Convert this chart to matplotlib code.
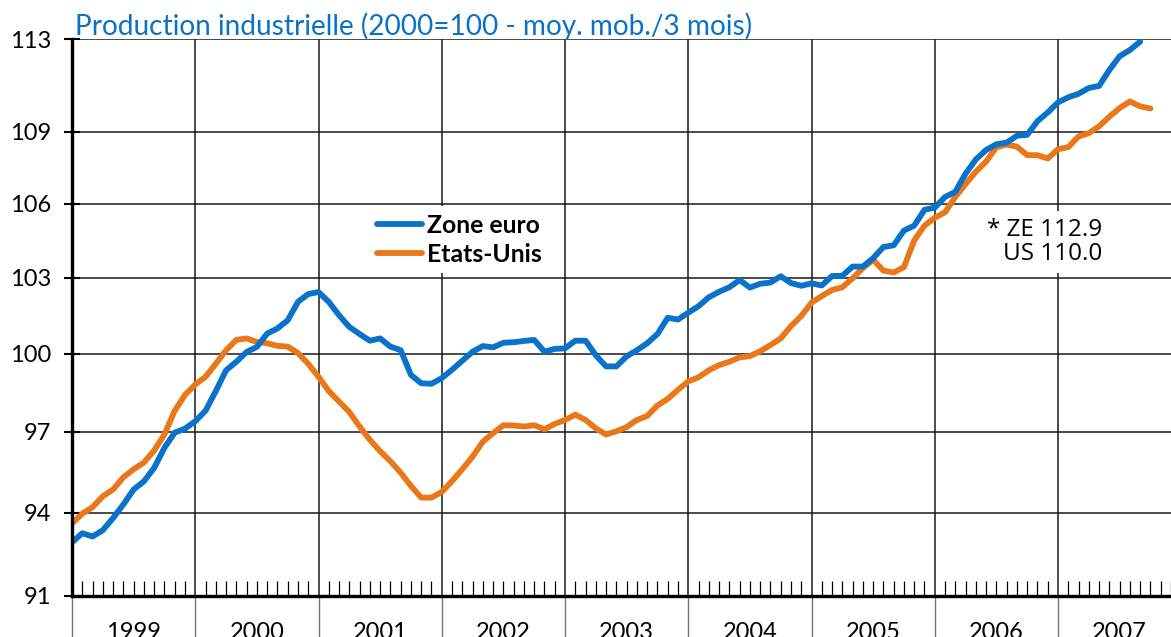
import numpy as np
import matplotlib
matplotlib.use("Agg")
import matplotlib.pyplot as plt
from matplotlib.ticker import FixedLocator, NullLocator, NullFormatter
import matplotlib.transforms as mtransforms

# ---------------- data ----------------
title = "Production industrielle (2000=100 - moy. mob./3 mois)"
years = ["1999", "2000", "2001", "2002", "2003", "2004", "2005", "2006", "2007"]
y_ticks = [91, 94, 97, 100, 103, 106, 109, 113]
series_names = ["Zone euro", "Etats-Unis"]

# monthly values, starting January 1999
zone_euro = [
    92.92, 93.25, 93.13, 93.36, 93.8, 94.3, 94.85, 95.15, 95.65, 96.4, 96.97, 97.12,
    97.4, 97.8, 98.55, 99.35, 99.68, 100.06, 100.26, 100.78, 100.98, 101.3, 102.03, 102.34,
    102.42, 102.03, 101.5, 101.04, 100.76, 100.5, 100.59, 100.27, 100.13, 99.17, 98.85, 98.83,
    99.05, 99.37, 99.72, 100.07, 100.29, 100.24, 100.42, 100.44, 100.49, 100.53, 100.07, 100.18,
    100.2, 100.5, 100.5, 99.93, 99.5, 99.5, 99.89, 100.13, 100.4, 100.76, 101.4, 101.33,
    101.6, 101.86, 102.21, 102.43, 102.61, 102.9, 102.6, 102.75, 102.8, 103.05, 102.78, 102.67,
    102.77, 102.68, 103.06, 103.07, 103.44, 103.44, 103.78, 104.23, 104.3, 104.9, 105.1, 105.75,
    105.84, 106.28, 106.49, 107.25, 107.84, 108.24, 108.48, 108.55, 108.84, 108.88, 109.46, 109.83,
    110.26, 110.48, 110.63, 110.88, 110.97, 111.66, 112.26, 112.53, 112.9,
]
etats_unis = [
    93.6, 93.96, 94.2, 94.6, 94.85, 95.3, 95.6, 95.85, 96.3, 96.9, 97.8, 98.4,
    98.8, 99.1, 99.6, 100.13, 100.53, 100.59, 100.45, 100.4, 100.3, 100.27, 100.02, 99.6,
    99.1, 98.55, 98.15, 97.75, 97.2, 96.7, 96.27, 95.9, 95.47, 94.98, 94.55, 94.55,
    94.76, 95.16, 95.6, 96.07, 96.63, 96.95, 97.25, 97.24, 97.2, 97.25, 97.1, 97.3,
    97.45, 97.65, 97.45, 97.13, 96.9, 97.02, 97.18, 97.45, 97.6, 98.0, 98.25, 98.6,
    98.92, 99.08, 99.35, 99.55, 99.68, 99.85, 99.9, 100.09, 100.33, 100.59, 101.07, 101.47,
    102.0, 102.26, 102.5, 102.61, 102.97, 103.38, 103.71, 103.28, 103.2, 103.42, 104.5, 105.1,
    105.42, 105.65, 106.28, 106.81, 107.33, 107.75, 108.36, 108.46, 108.38, 108.02, 108.02, 107.88,
    108.27, 108.36, 108.81, 108.95, 109.24, 109.65, 110.02, 110.3, 110.09, 110.0,
]
annotation = "* ZE 112.9\nUS 110.0"

# ---------------- style ----------------
BLUE = "#0A72C8"
ORANGE = "#E8781A"
W, H = 1171, 637
DPI = 100

fig = plt.figure(figsize=(W / DPI, H / DPI), dpi=DPI)
left_px, right_px, top_px, bottom_px = 72, 1171, 39.3, 596
ax = fig.add_axes([left_px / W, (H - bottom_px) / H,
                   (right_px - left_px) / W, (bottom_px - top_px) / H])

x_ze = np.arange(len(zone_euro))
x_us = np.arange(len(etats_unis))
n_months = 12 * len(years) - 1  # axis ends at start of last month

ax.plot(x_ze, zone_euro, color=BLUE, lw=4.2, solid_capstyle="round",
        solid_joinstyle="round", label=series_names[0], zorder=5)
ax.plot(x_us, etats_unis, color=ORANGE, lw=4.2, solid_capstyle="round",
        solid_joinstyle="round", label=series_names[1], zorder=4)

ax.set_yscale("log")
ax.set_ylim(y_ticks[0], y_ticks[-1])
ax.set_xlim(0, n_months)

ax.yaxis.set_major_locator(FixedLocator(y_ticks))
ax.yaxis.set_minor_locator(NullLocator())
ax.yaxis.set_minor_formatter(NullFormatter())
ax.set_yticklabels([str(v) for v in y_ticks])

year_starts = [12 * i for i in range(len(years))]
ax.xaxis.set_major_locator(FixedLocator(year_starts))
ax.xaxis.set_minor_locator(FixedLocator(list(range(0, n_months + 1))))
ax.set_xticklabels([""] * len(year_starts))

ax.grid(True, which="major", color="#1a1a1a", lw=1.1, zorder=1)
ax.set_axisbelow(True)

for s in ["top", "right"]:
    ax.spines[s].set_visible(False)
for s in ["left", "bottom"]:
    ax.spines[s].set_linewidth(2.4)
    ax.spines[s].set_color("black")
    ax.spines[s].set_zorder(6)

ax.tick_params(axis="y", which="major", direction="inout", length=11.5, width=1.5,
               pad=9, labelsize=17, colors="black")
ax.tick_params(axis="x", which="major", direction="out", length=32, width=1.0,
               color="#777777", labelsize=1)
ax.tick_params(axis="x", which="minor", direction="in", length=10.8, width=0.9,
               color="black")

for lab in ax.get_yticklabels():
    lab.set_fontfamily(["Lato", "DejaVu Sans"])

# year labels, centred in each year, partly below the figure edge (as in the reference)
trans = mtransforms.blended_transform_factory(ax.transData, fig.transFigure)
for i, yr in enumerate(years):
    ax.text(12 * i + 6, -2.0 / H, yr, transform=trans, ha="center", va="baseline",
            fontsize=17, family=["Lato", "DejaVu Sans"], clip_on=False)

# title
fig.text(75 / W, (H - 35) / H, title, color=BLUE, fontsize=20.2,
         family=["Lato", "DejaVu Sans"], ha="left", va="baseline")

# legend
leg = ax.legend(loc="upper left", bbox_to_anchor=(0.271, 0.700), frameon=True,
                fancybox=False, framealpha=1, edgecolor="none", facecolor="white",
                borderaxespad=0, borderpad=0.3, handlelength=1.8, handletextpad=0.22,
                labelspacing=0.25, prop={"family": "Lato", "size": 17.8, "weight": "bold"})
leg.set_zorder(7)

# annotation
ax.text(1102 / W, (H - 242) / H, annotation, transform=fig.transFigure,
        ha="right", va="center", multialignment="right", fontsize=17.5,
        family=["Open Sans", "DejaVu Sans"], linespacing=1.05,
        bbox=dict(facecolor="white", edgecolor="none", pad=5), zorder=7)

fig.savefig("out.png", dpi=DPI)
